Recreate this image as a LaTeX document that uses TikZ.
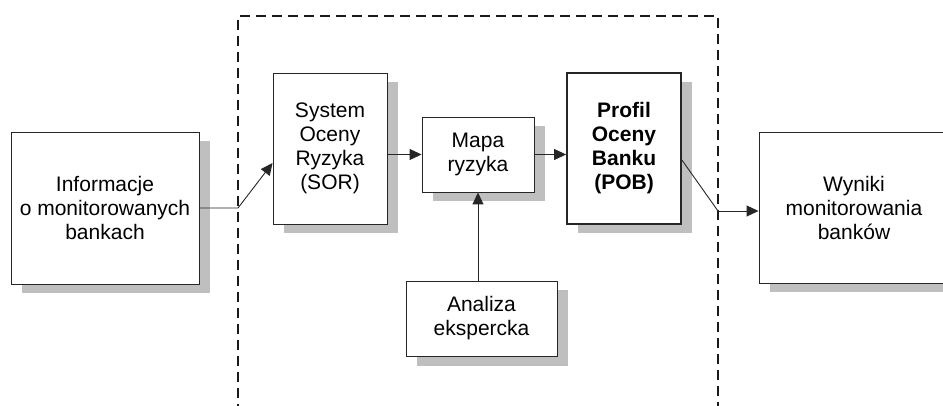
\documentclass[tikz,border=0pt]{standalone}
\usepackage{fontspec}
\setmainfont{Liberation Sans}
\usetikzlibrary{arrows.meta,shadows,calc}

\begin{document}
\begin{tikzpicture}[x=1pt,y=-1pt,
  box/.style={draw=black!85, line width=0.9pt, fill=white, align=center,
    inner sep=0pt, font=\fontsize{21}{24}\selectfont,
    general shadow={fill=black!25, shadow xshift=10.5pt, shadow yshift=-9.5pt}},
  boldbox/.style={box, line width=1.8pt, font=\fontsize{21}{24}\selectfont\bfseries},
  link/.style={draw=black!85, line width=0.9pt},
  arrow/.style={link, -{Triangle[length=12pt,width=11pt]}},
  frame/.style={draw=black!90, line width=1.6pt, dash pattern=on 10pt off 6pt}
]
\useasboundingbox (0,0) rectangle (943,406);
\clip (0,0) rectangle (943,406);

% dashed frame around the assessment system (open at the bottom)
\draw[frame] (238,430) -- (238,16) -- (718,16) -- (718,430);

% blocks
\node[box, minimum width=188pt, minimum height=152pt] (info) at (105,208)
  {Informacje\\o monitorowanych\\bankach};
\node[box, minimum width=114pt, minimum height=151pt] (sor) at (330,148.5)
  {System\\Oceny\\Ryzyka\\(SOR)};
\node[box, minimum width=112pt, minimum height=75pt] (mapa) at (478,154.5)
  {Mapa\\ryzyka};
\node[boldbox, minimum width=114pt, minimum height=151pt] (pob) at (624,148.5)
  {Profil\\Oceny\\Banku\\(POB)};
\node[box, minimum width=210pt, minimum height=151pt] (wyniki) at (864,207.5)
  {\hspace*{-20pt}Wyniki\\\hspace*{-20pt}monitorowania\\\hspace*{-20pt}banków};
\node[box, minimum width=151pt, minimum height=75pt] (analiza) at (481.5,318.5)
  {Analiza\\ekspercka};

% junction points on the frame
\coordinate (jin) at (238,208);
\coordinate (jout) at (718,211);

% connectors
\draw[arrow] (info.east) -- (jin) -- ([yshift=-14.5pt]sor.west);
\draw[arrow] (sor.east |- mapa.west) -- (mapa.west);
\draw[arrow] (mapa.east) -- (mapa.east -| pob.west);
\draw[link] ([yshift=-11.5pt]pob.east) -- (jout);
\draw[arrow] (jout) -- (jout -| wyniki.west);
\draw[arrow] (mapa.south |- analiza.north) -- (mapa.south);
\end{tikzpicture}
\end{document}
